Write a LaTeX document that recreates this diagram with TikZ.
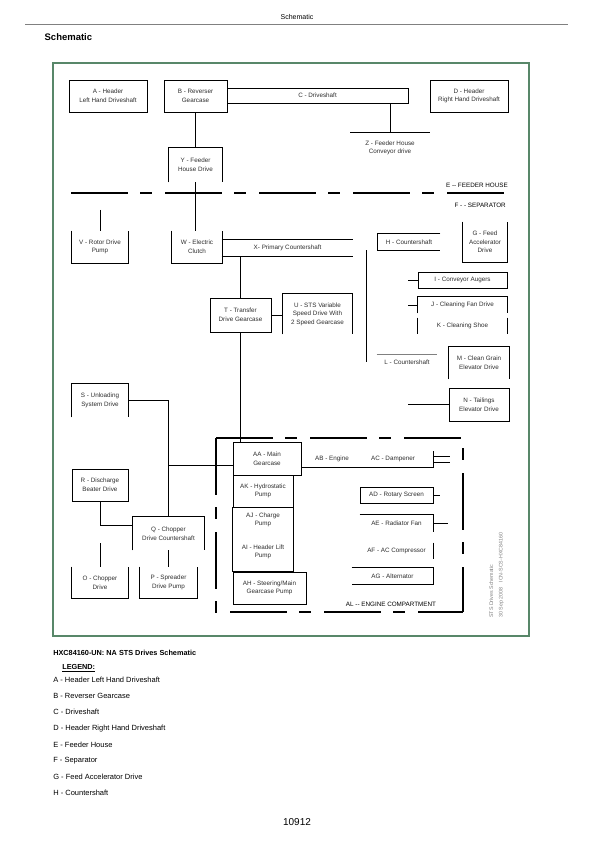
\documentclass[tikz,border=0pt]{standalone}
\usepackage{fontspec}
\setmainfont{Liberation Sans}
\usepackage{xcolor}
\definecolor{fgreen}{RGB}{88,135,105}
\definecolor{dtext}{RGB}{45,45,45}
\usetikzlibrary{calc}

\tikzset{
  wh/.style 2 args={minimum width=#1,minimum height=#2},
  bare/.style={inner sep=0pt,align=center,text=dtext,font=\fontsize{6.3}{8.6}\selectfont},
  part/.style={bare,draw,line width=0.6pt},
  zone/.style={line width=2.4pt,dash pattern=on 57pt off 12pt on 12pt off 13pt},
  leg/.style={anchor=west,inner sep=0pt,font=\fontsize{7.5}{9}\selectfont}
}

\begin{document}
\begin{tikzpicture}[x=1pt,y=-1pt,line width=0.6pt]
  \useasboundingbox (0,0) rectangle (595,842);
  \node[font=\fontsize{7}{8}\selectfont] (ptitle) at (297,17) {Schematic};
  \draw[gray,line width=0.5pt] (25,24) -- (568,24);
  \node[anchor=west,font=\bfseries\fontsize{9.5}{11}\selectfont] (stitle) at (41,37) {Schematic};
  \draw[fgreen,line width=1.6pt] (53,63) rectangle (529,636);

  \node[part,wh={78}{32}] (A) at (108,96) {A - Header\\Left Hand Driveshaft};
  \node[part,wh={63}{32}] (B) at (195.5,96) {B - Reverser\\Gearcase};
  \node[part,wh={181}{15}] (C) at (317.5,95.5) {C - Driveshaft};
  \node[part,wh={78}{32}] (D) at (469,96) {D - Header\\Right Hand Driveshaft};
  \coordinate (zt) at (390,132);
  \coordinate (zl) at (350,132);
  \coordinate (zr) at (430,132);
  \draw (zt |- C.south) -- (zt);
  \draw (zl) -- (zr);
  \node[bare] (Z) at (390,148) {Z - Feeder House\\Conveyor drive};
  \node[bare,wh={53}{34}] (Y) at (195.5,165) {Y - Feeder\\House Drive};
  \draw (Y.south west) |- (Y.north east) -- (Y.south east);
  \draw (B.south) -- (Y.north);

  \draw[zone] (71,193) -- (508,193);
  \node[bare,anchor=east,text=black] (E) at (508,185) {E -{}- FEEDER HOUSE};
  \node[bare,anchor=east,text=black] (F) at (506,205) {F - - SEPARATOR};

  \node[bare,wh={56}{32}] (V) at (100,247) {V - Rotor Drive\\Pump};
  \draw (V.north west) |- (V.south east) -- (V.north east);
  \coordinate (vt) at (100,210);
  \draw (vt) -- (V.north);
  \node[bare,wh={50}{32}] (W) at (197,247) {W - Electric\\Clutch};
  \draw (W.north west) |- (W.south east) -- (W.north east);
  \draw (Y.south) -- (Y.south |- W.north);
  \node[bare,wh={131}{16}] (X) at (287.5,248) {X- Primary Countershaft};
  \draw (X.north west) -- (X.north east) (X.south west) -- (X.south east);
  \node[part,wh={61}{34}] (T) at (240.5,315) {T - Transfer\\Drive Gearcase};
  \draw (T.north) -- (T.north |- X.south);
  \node[bare,wh={69}{40}] (U) at (317.5,314) {U - STS Variable\\Speed Drive With\\2 Speed Gearcase};
  \draw (U.south west) |- (U.north east) -- (U.south east);
  \draw (T.east) -- (U.west |- T.east);

  \coordinate (c1) at (366,250);
  \coordinate (c2) at (366,362);
  \draw (c1) -- (c2);
  \node[bare,wh={62}{16}] (H) at (409,242) {H - Countershaft};
  \draw (H.north east) -| (H.south west) -- (H.south east);
  \node[bare,wh={44}{40}] (G) at (485,242) {G - Feed\\Accelerator\\Drive};
  \draw (G.north west) |- (G.south east) -- (G.north east);
  \node[part,wh={89}{16}] (I) at (462.5,280) {I - Conveyor Augers};
  \coordinate (it) at (408,280);
  \draw (it) -- (I.west);
  \node[bare,wh={89}{16}] (J) at (462.5,305) {J - Cleaning Fan Drive};
  \draw (J.south west) |- (J.north east) -- (J.south east);
  \coordinate (jt) at (408,305);
  \draw (jt) -- (J.west);
  \node[bare,wh={89}{16}] (K) at (462.5,326) {K - Cleaning Shoe};
  \draw (K.north west) -- (K.south west) (K.north east) -- (K.south east);
  \node[bare,wh={60}{14}] (L) at (407,362) {L - Countershaft};
  \draw[gray] (L.north west) -- (L.north east);
  \node[bare,wh={60}{32}] (M) at (479,363) {M - Clean Grain\\Elevator Drive};
  \draw (M.south west) |- (M.north east) -- (M.south east);
  \node[part,wh={60}{33}] (N) at (479,404.5) {N - Tailings\\Elevator Drive};
  \coordinate (nt) at (408,404.5);
  \draw (nt) -- (N.west);

  \node[bare,wh={56}{33}] (S) at (100,400.5) {S - Unloading\\System Drive};
  \draw (S.south west) |- (S.north east) -- (S.south east);
  \node[part,wh={56}{32}] (R) at (100,485) {R - Discharge\\Beater Drive};
  \node[bare,wh={71}{33}] (Q) at (168.5,533.5) {Q - Chopper\\Drive Countershaft};
  \draw (Q.south west) |- (Q.north east) -- (Q.south east);
  \draw (R.south) |- ($(Q.north west)!0.25!(Q.south west)$);
  \node[bare,wh={56}{31}] (O) at (100,582.5) {O - Chopper\\Drive};
  \draw (O.north west) |- (O.south east) -- (O.north east);
  \coordinate (ot) at (100,543);
  \draw (ot) -- (O.north);
  \node[bare,wh={57}{31}] (P) at (168.5,582.5) {P - Spreader\\Drive Pump};
  \draw (P.north west) |- (P.south east) -- (P.north east);
  \draw (Q.south) -- (P.north);

  \draw[zone] (216,438) -- (216,612) -- (463,612);
  \draw[zone] (216,438) -- (463,438) -- (463,612);
  \node[bare,text=black] (AL) at (391,604) {AL -{}- ENGINE COMPARTMENT};
  \node[part,wh={68}{33}] (AA) at (267,458.5) {AA - Main\\Gearcase};
  \coordinate (sq) at (168,465);
  \draw (S.east) -| (sq) -- (sq -| AA.west);
  \draw (sq) -- (sq |- Q.north);
  \draw (T.south) -- (T.south |- AA.north);
  \node[part,wh={60}{32}] (AK) at (263,491) {AK - Hydrostatic\\Pump};
  \node[bare] (AJ) at (263,520) {AJ - Charge\\Pump};
  \node[bare] (AI) at (263,552) {AI - Header Lift\\Pump};
  \node[part,wh={73}{32}] (AH) at (269.5,588) {AH - Steering/Main\\Gearcase Pump};
  \draw (AK.south west) rectangle (AK.east |- AH.north);
  \node[bare] (AB) at (332,459) {AB - Engine};
  \node[bare] (AC) at (393,459) {AC - Dampener};
  \coordinate (ac) at (433,467);
  \draw (AA.east |- ac) -- (ac) -- ++(0,-16);
  \draw (433,456) -- ++(17,0) (433,462) -- ++(17,0);
  \node[part,wh={73}{16}] (AD) at (396.5,495) {AD - Rotary Screen};
  \draw (AD.east) -- ++(7,0);
  \node[bare,wh={73}{17}] (AE) at (396.5,523.5) {AE - Radiator Fan};
  \draw (AE.north west) -| (AE.south east);
  \draw (AE.east) -- ++(15,0);
  \node[bare,wh={73}{16}] (AF) at (396.5,551) {AF - AC Compressor};
  \draw (AF.north east) -- (AF.south east);
  \node[bare,wh={81}{16}] (AG) at (392.5,576) {AG - Alternator};
  \draw (AG.north west) -| (AG.south east) -- (AG.south west);

  \node[rotate=90,anchor=north west,align=left,inner sep=0pt,text=gray,font=\fontsize{5.3}{9.5}\selectfont] (stamp) at (489,618) {STS Drives Schematic\\30 Sep 2008\quad ICN-SCS-HXC84160};

  \node[leg,font=\bfseries\fontsize{7.3}{9}\selectfont] (cap) at (53,653) {HXC84160-UN: NA STS Drives Schematic};
  \node[leg,font=\bfseries\fontsize{7.3}{9}\selectfont] (legend) at (62,668) {\underline{LEGEND:}};
  \foreach \t [count=\i] in {A - Header Left Hand Driveshaft,B - Reverser Gearcase,C - Driveshaft,D - Header Right Hand Driveshaft,E - Feeder House,F - Separator,G - Feed Accelerator Drive,H - Countershaft}
    \node[leg] (l\i) at (53,{664+16.1*\i}) {\t};
  \node[font=\fontsize{10}{12}\selectfont] (pnum) at (297,822) {10912};
\end{tikzpicture}
\end{document}
